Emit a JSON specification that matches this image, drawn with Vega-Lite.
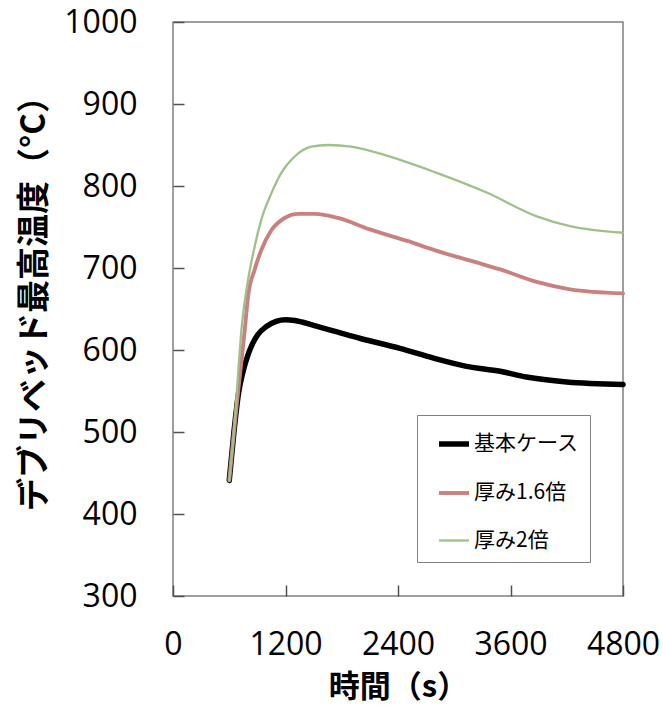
{
  "$schema": "https://vega.github.io/schema/vega-lite/v6.json",
  "autosize": "none",
  "width": 450,
  "height": 574,
  "padding": {"left": 173, "top": 22, "right": 40, "bottom": 109},
  "background": "white",
  "config": {
    "view": {"stroke": "#7f7f7f", "strokeWidth": 1.5},
    "axis": {
      "grid": false,
      "domain": false,
      "ticks": true,
      "tickColor": "#505050",
      "tickWidth": 1.5,
      "labelFont": "Open Sans",
      "labelFontSize": 32,
      "labelColor": "#000000",
      "labelFlush": false,
      "labelOverlap": false,
      "titleFont": "Noto Sans CJK JP",
      "titleFontWeight": "bold",
      "titleColor": "#000000"
    }
  },
  "data": {
    "values": [
      {"t": 600, "temp": 441, "case": "基本ケース"},
      {"t": 650, "temp": 500, "case": "基本ケース"},
      {"t": 700, "temp": 548, "case": "基本ケース"},
      {"t": 750, "temp": 575, "case": "基本ケース"},
      {"t": 800, "temp": 594, "case": "基本ケース"},
      {"t": 850, "temp": 608, "case": "基本ケース"},
      {"t": 900, "temp": 618, "case": "基本ケース"},
      {"t": 1000, "temp": 629, "case": "基本ケース"},
      {"t": 1100, "temp": 635, "case": "基本ケース"},
      {"t": 1200, "temp": 637, "case": "基本ケース"},
      {"t": 1300, "temp": 636, "case": "基本ケース"},
      {"t": 1500, "temp": 630, "case": "基本ケース"},
      {"t": 1750, "temp": 622, "case": "基本ケース"},
      {"t": 2000, "temp": 614, "case": "基本ケース"},
      {"t": 2420, "temp": 602, "case": "基本ケース"},
      {"t": 2780, "temp": 590, "case": "基本ケース"},
      {"t": 3130, "temp": 580, "case": "基本ケース"},
      {"t": 3490, "temp": 574, "case": "基本ケース"},
      {"t": 3770, "temp": 567, "case": "基本ケース"},
      {"t": 4200, "temp": 561, "case": "基本ケース"},
      {"t": 4800, "temp": 558, "case": "基本ケース"},
      {"t": 600, "temp": 441, "case": "厚み1.6倍"},
      {"t": 650, "temp": 500, "case": "厚み1.6倍"},
      {"t": 700, "temp": 555, "case": "厚み1.6倍"},
      {"t": 765, "temp": 624, "case": "厚み1.6倍"},
      {"t": 800, "temp": 665, "case": "厚み1.6倍"},
      {"t": 871, "temp": 698, "case": "厚み1.6倍"},
      {"t": 942, "temp": 722, "case": "厚み1.6倍"},
      {"t": 1049, "temp": 746, "case": "厚み1.6倍"},
      {"t": 1191, "temp": 761, "case": "厚み1.6倍"},
      {"t": 1333, "temp": 766, "case": "厚み1.6倍"},
      {"t": 1511, "temp": 766, "case": "厚み1.6倍"},
      {"t": 1760, "temp": 761, "case": "厚み1.6倍"},
      {"t": 2100, "temp": 747, "case": "厚み1.6倍"},
      {"t": 2500, "temp": 733, "case": "厚み1.6倍"},
      {"t": 2813, "temp": 721, "case": "厚み1.6倍"},
      {"t": 3200, "temp": 708, "case": "厚み1.6倍"},
      {"t": 3523, "temp": 697, "case": "厚み1.6倍"},
      {"t": 3880, "temp": 683, "case": "厚み1.6倍"},
      {"t": 4235, "temp": 674, "case": "厚み1.6倍"},
      {"t": 4800, "temp": 669, "case": "厚み1.6倍"},
      {"t": 600, "temp": 441, "case": "厚み2倍"},
      {"t": 650, "temp": 500, "case": "厚み2倍"},
      {"t": 700, "temp": 580, "case": "厚み2倍"},
      {"t": 729, "temp": 624, "case": "厚み2倍"},
      {"t": 800, "temp": 685, "case": "厚み2倍"},
      {"t": 871, "temp": 726, "case": "厚み2倍"},
      {"t": 942, "temp": 759, "case": "厚み2倍"},
      {"t": 1049, "temp": 791, "case": "厚み2倍"},
      {"t": 1155, "temp": 816, "case": "厚み2倍"},
      {"t": 1298, "temp": 836, "case": "厚み2倍"},
      {"t": 1476, "temp": 848, "case": "厚み2倍"},
      {"t": 1653, "temp": 850, "case": "厚み2倍"},
      {"t": 1900, "temp": 848, "case": "厚み2倍"},
      {"t": 2280, "temp": 837, "case": "厚み2倍"},
      {"t": 2813, "temp": 816, "case": "厚み2倍"},
      {"t": 3346, "temp": 792, "case": "厚み2倍"},
      {"t": 3880, "temp": 763, "case": "厚み2倍"},
      {"t": 4235, "temp": 751, "case": "厚み2倍"},
      {"t": 4800, "temp": 743, "case": "厚み2倍"}
    ]
  },
  "mark": {"type": "line", "interpolate": "monotone", "strokeCap": "round"},
  "encoding": {
    "x": {
      "field": "t",
      "type": "quantitative",
      "scale": {"domain": [0, 4800], "nice": false},
      "axis": {
        "values": [0, 1200, 2400, 3600, 4800],
        "format": "d",
        "tickSize": -11,
        "labelPadding": 44,
        "title": "時間（s）",
        "titleFontSize": 31,
        "titlePadding": 12
      }
    },
    "y": {
      "field": "temp",
      "type": "quantitative",
      "scale": {"domain": [300, 1000], "nice": false},
      "axis": {
        "values": [300, 400, 500, 600, 700, 800, 900, 1000],
        "format": "d",
        "tickSize": -11,
        "labelPadding": 47,
        "title": "デブリベッド最高温度（°C）",
        "titleFontSize": 33,
        "titlePadding": 12,
        "titleY": 273
      }
    },
    "color": {
      "field": "case",
      "type": "nominal",
      "scale": {
        "domain": ["基本ケース", "厚み1.6倍", "厚み2倍"],
        "range": ["#000000", "#c98180", "#9fc089"]
      },
      "legend": {
        "title": null,
        "orient": "none",
        "legendX": 244,
        "legendY": 393,
        "symbolType": "stroke",
        "symbolSize": 900,
        "symbolOffset": 8,
        "labelFont": "Noto Sans CJK JP",
        "labelFontSize": 21,
        "labelColor": "#000000",
        "labelOffset": 2,
        "rowPadding": 21,
        "padding": 11,
        "fillColor": "white",
        "strokeColor": "#7f7f7f"
      }
    },
    "strokeWidth": {
      "field": "case",
      "type": "nominal",
      "scale": {
        "domain": ["基本ケース", "厚み1.6倍", "厚み2倍"],
        "range": [5.5, 2.3, 2.3]
      },
      "legend": null
    }
  }
}
